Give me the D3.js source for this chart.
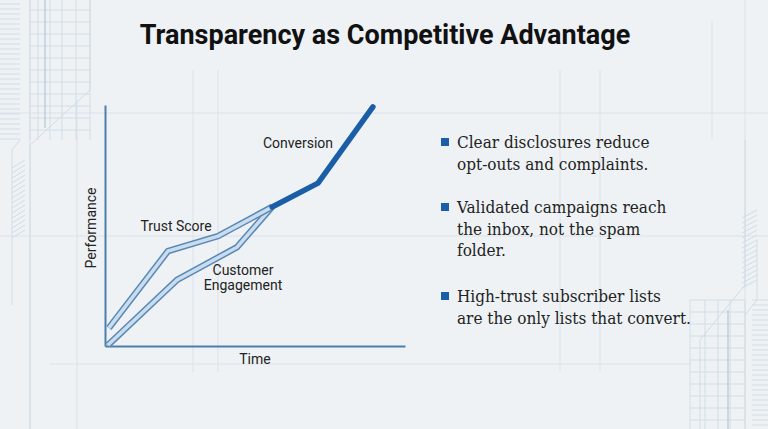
<!DOCTYPE html>
<html><head><meta charset="utf-8">
<script src="https://cdn.jsdelivr.net/npm/d3@7"></script>
<style>
html,body{margin:0;padding:0;background:#eef2f5;}
svg{display:block;}
</style></head>
<body>
<svg id="c" width="768" height="429"></svg>
<script>
// ---- data ----
const title = "Transparency as Competitive Advantage";
const trustT = [0.13, 2.1, 3.77, 5.57];
const trustV = [0.75, 3.94, 4.56, 5.77];
const engageT = [0.1, 2.4, 4.4, 5.57];
const engageV = [0.04, 2.74, 4.1, 5.77];
const convT = [5.57, 7.1, 8.93];
const convV = [5.77, 6.76, 9.92];
const seriesLabels = ["Trust Score", "Customer Engagement", "Conversion"];
const axisLabels = ["Time", "Performance"];
const bullets = [
  ["Clear disclosures reduce", "opt-outs and complaints."],
  ["Validated campaigns reach", "the inbox, not the spam", "folder."],
  ["High-trust subscriber lists", "are the only lists that convert."]
];

const svg = d3.select("#c");
const W = 768, H = 429;

// background
svg.append("rect").attr("width", W).attr("height", H).attr("fill", "#eef2f5");
const deco = svg.append("g").attr("stroke", "#dae2e9").attr("stroke-width", 1).attr("fill", "none");
[[0,113,768,113],[0,236,768,236],[50,364,690,364],[193,70,193,372],[218,70,218,372],[560,70,560,372],[600,70,600,372],[30,0,30,429],[77,100,77,429],[712,20,712,140],[745,0,745,429]].forEach(l=>{
  deco.append("line").attr("x1",l[0]).attr("y1",l[1]).attr("x2",l[2]).attr("y2",l[3]);
});
const ld = svg.append("g").attr("stroke", "#d2dce5").attr("fill","none");
for (let y = 4; y < 140; y += 5) ld.append("line").attr("x1",0).attr("x2",20).attr("y1",y).attr("y2",y);
for (let y = 10; y < 140; y += 12) ld.append("line").attr("x1",30).attr("x2",90).attr("y1",y).attr("y2",y);
[30,38,50,62,76,90].forEach(x=>ld.append("line").attr("x1",x).attr("x2",x).attr("y1",0).attr("y2",140));
ld.append("path").attr("d","M90,0 V90 L30,145 V429");
ld.append("path").attr("d","M20,140 L12,150 V305");
for (let y = 160; y < 235; y += 5) ld.append("line").attr("x1",12).attr("x2",25).attr("y1",y+8).attr("y2",y);
svg.append("line").attr("x1",45).attr("x2",45).attr("y1",0).attr("y2",128).attr("stroke","#a9bfd2").attr("stroke-width",1);
const rd = svg.append("g").attr("stroke", "#d2dce5").attr("fill","none");
for (let y = 300; y < 429; y += 12) rd.append("line").attr("x1",690).attr("x2",745).attr("y1",y).attr("y2",y);
for (let y = 300; y < 429; y += 5) rd.append("line").attr("x1",752).attr("x2",768).attr("y1",y).attr("y2",y);
[690,705,718,730,745].forEach(x=>rd.append("line").attr("x1",x).attr("x2",x).attr("y1",300).attr("y2",429));
rd.append("path").attr("d","M745,140 V285 L700,340 V429");
rd.append("path").attr("d","M757,240 V300 L745,315");
for (let y = 210; y < 285; y += 5) rd.append("line").attr("x1",742).attr("x2",757).attr("y1",y+8).attr("y2",y);
svg.append("line").attr("x1",728).attr("x2",728).attr("y1",310).attr("y2",429).attr("stroke","#a9bfd2");

// title
svg.append("text").attr("x", 385).attr("y", 44).attr("text-anchor","middle")
  .attr("font-family","Roboto, 'Liberation Sans', sans-serif").attr("font-weight",700)
  .attr("font-size",27).attr("fill","#111").text(title);

// scales
const x = d3.scaleLinear().domain([0,10]).range([105,405]);
const y = d3.scaleLinear().domain([0,10]).range([346,105]);

const axColor = "#4d7eaa";
const gx = svg.append("g").attr("transform","translate(0,346)")
  .call(d3.axisBottom(x).ticks(0).tickSizeOuter(0));
const gy = svg.append("g").attr("transform","translate(105,0)")
  .call(d3.axisLeft(y).ticks(0).tickSizeOuter(0));
[gx,gy].forEach(g=>g.select(".domain").attr("stroke",axColor).attr("stroke-width",2));

const line = d3.line().x(d=>x(d[0])).y(d=>y(d[1]));
function hollow(ts, vs){
  const pts = ts.map((t,i)=>[t,vs[i]]);
  svg.append("path").attr("d",line(pts)).attr("fill","none").attr("stroke","#5a88b4")
    .attr("stroke-width",6.5).attr("stroke-linejoin","miter");
  svg.append("path").attr("d",line(pts)).attr("fill","none").attr("stroke","#c9ddef")
    .attr("stroke-width",3.5).attr("stroke-linejoin","miter");
}
hollow(engageT, engageV);
hollow(trustT, trustV);
svg.append("path").attr("d", line(convT.map((t,i)=>[t,convV[i]])))
  .attr("fill","none").attr("stroke","#1a5ea8").attr("stroke-width",5.5)
  .attr("stroke-linecap","round").attr("stroke-linejoin","round");

const lf = "Roboto, 'Liberation Sans', sans-serif";
const lab = (tx,ty,s,anchor="middle") => svg.append("text").attr("x",tx).attr("y",ty)
  .attr("text-anchor",anchor).attr("font-family",lf).attr("font-size",14).attr("fill","#222").text(s);
lab(176, 231, seriesLabels[0]);
const eng = seriesLabels[1].split(" ");
lab(243, 275, eng[0]);
lab(243, 290, eng[1]);
lab(298, 148, seriesLabels[2]);
lab(255, 364, axisLabels[0]);
svg.append("text").attr("transform","translate(96,228) rotate(-90)").attr("text-anchor","middle")
  .attr("font-family",lf).attr("font-size",14).attr("fill","#222").text(axisLabels[1]);

// bullets
const by = [148, 213, 302];
const bf = "'DejaVu Serif', 'Liberation Serif', serif";
bullets.forEach((lines,i)=>{
  svg.append("rect").attr("x",441).attr("y",by[i]-10).attr("width",8).attr("height",8).attr("fill","#1a5ea8");
  lines.forEach((s,j)=>{
    svg.append("text").attr("x",457).attr("y",by[i]+j*21.5)
      .attr("font-family",bf).attr("font-stretch","condensed").style("font-stretch","condensed")
      .attr("font-size",17).attr("fill","#222").text(s);
  });
});
</script>
</body></html>
